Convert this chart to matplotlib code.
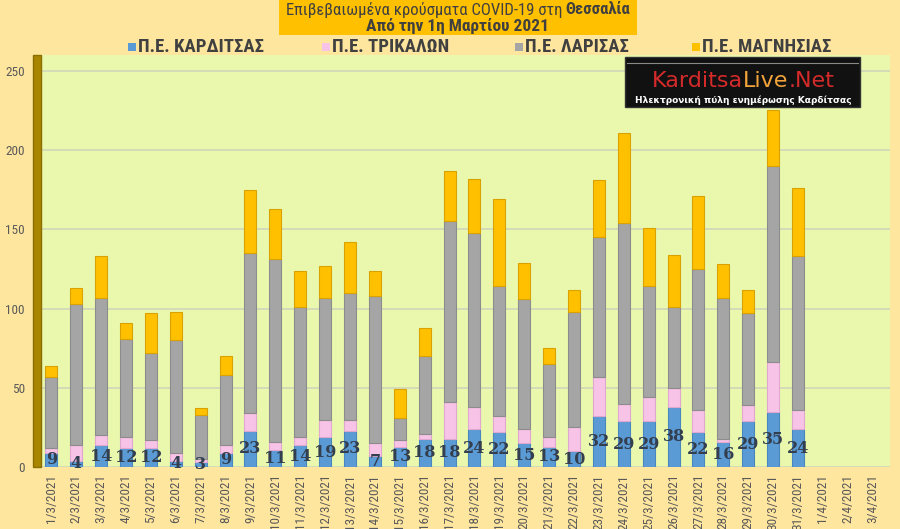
import numpy as np
import matplotlib
matplotlib.use("Agg")
import matplotlib.pyplot as plt
from matplotlib.patches import Rectangle
from matplotlib import font_manager

avail = set(f.name for f in font_manager.fontManager.ttflist)
narrow = [f for f in ['Roboto Condensed', 'Liberation Sans Narrow', 'DejaVu Sans Condensed'] if f in avail]
narrow = narrow + ['DejaVu Sans']
plt.rcParams['font.family'] = ['DejaVu Sans']

dates = ['1/3/2021', '2/3/2021', '3/3/2021', '4/3/2021', '5/3/2021', '6/3/2021', '7/3/2021',
         '8/3/2021', '9/3/2021', '10/3/2021', '11/3/2021', '12/3/2021', '13/3/2021', '14/3/2021',
         '15/3/2021', '16/3/2021', '17/3/2021', '18/3/2021', '19/3/2021', '20/3/2021', '21/3/2021',
         '22/3/2021', '23/3/2021', '24/3/2021', '25/3/2021', '26/3/2021', '27/3/2021', '28/3/2021',
         '29/3/2021', '30/3/2021', '31/3/2021', '1/4/2021', '2/4/2021', '3/4/2021']
# τιμες ανα νομο (31 ημερες με δεδομενα)
karditsa = [9, 4, 14, 12, 12, 4, 3, 9, 23, 11, 14, 19, 23, 7, 13, 18, 18, 24, 22, 15, 13, 10,
            32, 29, 29, 38, 22, 16, 29, 35, 24]
trikala = [3, 10, 6, 7, 5, 5, 2, 5, 11, 5, 5, 11, 7, 8, 4, 3, 23, 14, 10, 9, 6, 15,
           25, 11, 15, 12, 14, 2, 10, 31, 12]
larisa = [45, 89, 87, 62, 55, 71, 28, 44, 101, 115, 82, 77, 80, 93, 14, 49, 114, 110, 82, 82, 46, 73,
          88, 114, 70, 51, 89, 89, 58, 124, 97]
magnisia = [7, 10, 26, 10, 25, 18, 4, 12, 40, 32, 23, 20, 32, 16, 18, 18, 32, 34, 55, 23, 10, 14,
            36, 57, 37, 33, 46, 21, 15, 35, 43]
names = ['Π.Ε. ΚΑΡΔΙΤΣΑΣ', 'Π.Ε. ΤΡΙΚΑΛΩΝ', 'Π.Ε. ΛΑΡΙΣΑΣ', 'Π.Ε. ΜΑΓΝΗΣΙΑΣ']
colors = ['#5B9BD5', '#F7C3E6', '#A5A5A5', '#FFC000']
edges = ['#4A86BE', '#E0A8CF', '#8C8C8C', '#D9A200']

fig = plt.figure(figsize=(9, 5.29), dpi=100)
fig.patch.set_facecolor('#FFE69E')
ax = fig.add_axes([0.046, 0.117, 0.943, 0.779])
ax.set_facecolor('#EAF8AE')

x = np.arange(len(karditsa))
bottom = np.zeros(len(karditsa))
for vals, c, e in zip([karditsa, trikala, larisa, magnisia], colors, edges):
    ax.bar(x, vals, width=0.48, bottom=bottom, color=c, edgecolor=e, linewidth=0.8, zorder=3)
    bottom += np.array(vals)

for xi, v in zip(x, karditsa):
    ax.text(xi, v / 2, str(v), ha='center', va='center', fontsize=11.5,
            fontweight='bold', family='DejaVu Serif', color='#333F4F', zorder=5)

ax.set_xlim(-0.4, 33.7)
ax.set_ylim(0, 260)
ax.set_yticks(range(0, 251, 50))
ax.set_xticks(range(len(dates)))
ax.set_xticklabels(dates, rotation=90, fontsize=9.5, color='#595959', family=narrow)
ax.tick_params(axis='y', labelsize=9.5, colors='#595959', length=0, pad=12)
for lab in ax.get_yticklabels():
    lab.set_family(narrow)
ax.tick_params(axis='x', length=0, pad=5)
ax.grid(axis='y', color='#D0D6B8', linewidth=1.2, zorder=0)
for s in ax.spines.values():
    s.set_visible(False)

# 3d τοιχος αριστερα
fig.patches.append(Rectangle((33 / 900, 62 / 529), 8 / 900, 412 / 529,
                             transform=fig.transFigure, facecolor='#A88600',
                             edgecolor='#8A6E00', zorder=2))

# τιτλος
fig.patches.append(Rectangle((279 / 900, 1 - 35 / 529), 358 / 900, 35 / 529,
                             transform=fig.transFigure, facecolor='#FFC000', zorder=1))
t1 = fig.text(0.455, 1 - 10 / 529, 'Επιβεβαιωμένα κρούσματα COVID-19 στη ', ha='center',
              va='center', fontsize=12, color='#404040', family=narrow)
t1b = fig.text(0.613, 1 - 10 / 529, 'Θεσσαλία', ha='center', va='center', fontsize=12,
               fontweight='bold', color='#404040', family=narrow)
fig.text(458 / 900, 1 - 26 / 529, 'Από την 1η Μαρτίου 2021', ha='center', va='center',
         fontsize=12.5, fontweight='bold', color='#404040', family=narrow)
fig.canvas.draw()
r = fig.canvas.get_renderer()
w1 = t1.get_window_extent(r).width
w2 = t1b.get_window_extent(r).width
x0 = 458 - (w1 + w2) / 2
t1.set_position((x0 / 900, 1 - 10 / 529))
t1.set_ha('left')
t1b.set_position(((x0 + w1) / 900, 1 - 10 / 529))
t1b.set_ha('left')

# υπομνημα
leg_x = [128, 322, 515, 692]
for lx, n, c in zip(leg_x, names, colors):
    fig.patches.append(Rectangle((lx / 900, 1 - 51 / 529), 8 / 900, 8 / 529,
                                 transform=fig.transFigure, facecolor=c, zorder=2))
    fig.text((lx + 10) / 900, 1 - 47 / 529, n, ha='left', va='center', fontsize=13.5,
             fontweight='bold', color='#404040', family=narrow)

# λογοτυπο
fig.patches.append(Rectangle((625 / 900, 1 - 107 / 529), 235 / 900, 50 / 529,
                             transform=fig.transFigure, facecolor='#111111',
                             edgecolor='#333333', zorder=4))
fig.lines.append(plt.Line2D([627 / 900, 858 / 900], [1 - 63 / 529, 1 - 63 / 529],
                            transform=fig.transFigure, color='#888888', linewidth=0.8, zorder=5))
parts = [('Karditsa', '#D42A2A'), ('Live', '#F2A33A'), ('.Net', '#D42A2A')]
texts = []
for p, c in parts:
    texts.append(fig.text(0, 1 - 81 / 529, p, ha='left', va='center', fontsize=16, color=c, zorder=6))
ws = [t.get_window_extent(r).width for t in texts]
xs = 743 - sum(ws) / 2
for t, w in zip(texts, ws):
    t.set_position((xs / 900, 1 - 81 / 529))
    xs += w
fig.text(743 / 900, 1 - 100 / 529, 'Ηλεκτρονική πύλη ενημέρωσης Καρδίτσας', ha='center',
         va='center', fontsize=6.5, fontweight='bold', color='white', zorder=6)

fig.savefig('out.png', dpi=100, facecolor=fig.get_facecolor())
